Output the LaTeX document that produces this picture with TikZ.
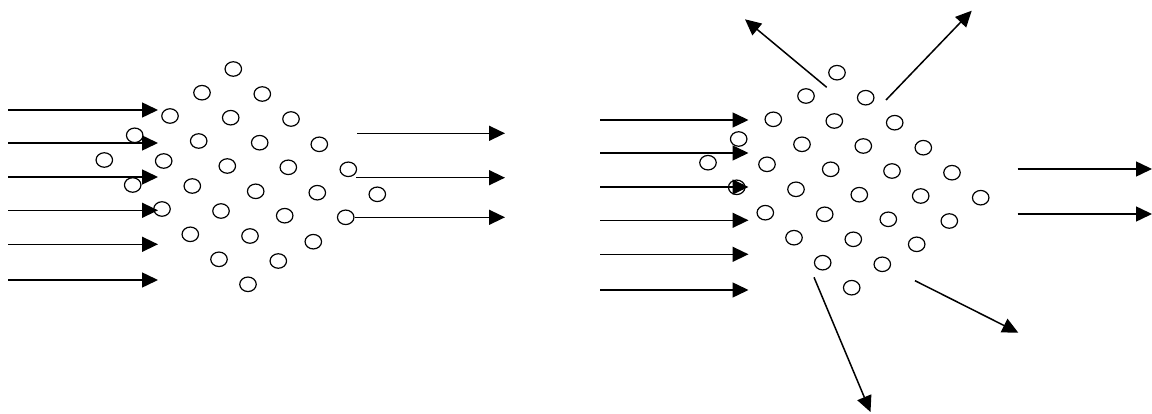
\documentclass[tikz,border=0pt]{standalone}
\usetikzlibrary{arrows.meta,shapes.geometric}
\begin{document}
\begin{tikzpicture}[x=1pt,y=-1pt,
  dot/.style={draw=black,line width=1.2pt,ellipse,minimum width=16.5pt,minimum height=14.5pt,inner sep=0pt},
  flow/.style={draw=black,line width=1.5pt,-{Triangle[length=16pt,width=15pt]}}]
\useasboundingbox (0,0) rectangle (1152,414);
% left cluster
\foreach \n/\x/\y in {1/233.3/69,2/202/92.7,3/262.3/94,4/170/116,5/230.7/117.7,6/291/119,
 7/134.7/135.3,8/198.7/141,9/259.7/142.7,10/319.3/144.3,11/104.3/160,12/163.7/161,
 13/227.3/166,14/288.3/167.3,15/348.3/169.3,16/132.7/185,17/192.3/186,18/255.7/191.3,
 19/317.3/192.7,20/377.3/194.3,21/162/209,22/221/211,23/284.7/215.7,24/345.7/217.3,
 25/190.3/234.3,26/250/236,27/313.3/241.7,28/219/259.3,29/278.3/261,30/248/284.3}
 \node[dot] (l\n) at (\x,\y) {};
% right cluster
\foreach \n/\x/\y in {1/837/72.7,2/806/96,3/865.7/97.7,4/773.3/119.3,5/834.3/121,6/894.7/122.7,
 7/738.7/139,8/802/144.3,9/863.3/146,10/923.3/147.7,11/708/162.7,12/767/164.3,
 13/830.7/169.3,14/892/171,15/952/172.7,16/736.7/187.3,17/796/189.3,18/859.3/194.7,
 19/920.7/196,20/980.7/197.7,21/765.3/212.7,22/824.7/214.3,23/888.3/219.3,24/949.3/221,
 25/794/237.7,26/853.3/239.3,27/916.7/244.3,28/822.7/262.7,29/882.3/264.3,30/851.7/287.7}
 \node[dot] (r\n) at (\x,\y) {};
% left incoming arrows
\foreach \i/\y in {1/110,2/143,3/177,4/210.3,5/244.3,6/280}{
 \coordinate (la\i) at (8,\y); \coordinate (lb\i) at (158,\y);
 \draw[flow] (la\i) -- (lb\i);}
% left outgoing arrows
\foreach \i/\x/\y in {1/357/133.3,2/356/177.7,3/355/217.3}{
 \coordinate (lo\i) at (\x,\y); \coordinate (lp\i) at (505,\y);
 \draw[flow] (lo\i) -- (lp\i);}
% right incoming arrows
\foreach \i/\y in {1/120,2/153,3/187,4/220.3,5/254.3,6/290}{
 \coordinate (ra\i) at (600,\y); \coordinate (rb\i) at (748.5,\y);
 \draw[flow] (ra\i) -- (rb\i);}
% right outgoing arrows
\foreach \i/\y in {1/169,2/214}{
 \coordinate (ro\i) at (1017.5,\y); \coordinate (rp\i) at (1152,\y);
 \draw[flow] (ro\i) -- (rp\i);}
% scattered arrows
\coordinate (s1a) at (826.7,87.3); \coordinate (s1b) at (745,19.3);
\coordinate (s2a) at (886,100);    \coordinate (s2b) at (971.7,10.7);
\coordinate (s3a) at (814,277.3);  \coordinate (s3b) at (870.5,412);
\coordinate (s4a) at (915,280.7);  \coordinate (s4b) at (1018.3,332.7);
\draw[flow] (s1a) -- (s1b);
\draw[flow] (s2a) -- (s2b);
\draw[flow] (s3a) -- (s3b);
\draw[flow] (s4a) -- (s4b);
\end{tikzpicture}
\end{document}
